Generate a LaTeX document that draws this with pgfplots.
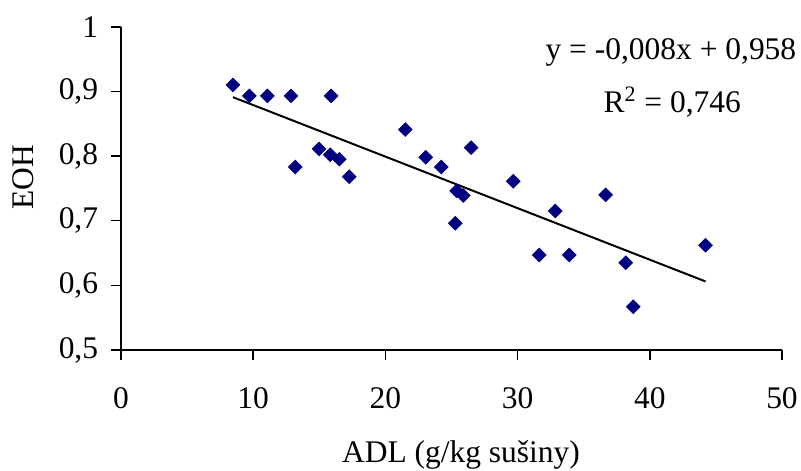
\documentclass[border=0pt]{standalone}
\usepackage{fontspec}
\setmainfont{Liberation Serif}
\usepackage{pgfplots}
\pgfplotsset{compat=1.18}
\definecolor{navy}{RGB}{0,0,128}
\begin{document}
\fontsize{15.8}{19}\selectfont
\begin{tikzpicture}
\useasboundingbox (-60.5bp,-60.5bp) rectangle (340bp,175bp);
\begin{axis}[
  scale only axis,
  width=330.5bp, height=161.65bp,
  at={(0,0)}, anchor=south west,
  xmin=0, xmax=50, ymin=0.5, ymax=1,
  xtick={0,10,20,30,40,50},
  ytick={0.5,0.6,0.7,0.8,0.9,1},
  axis x line*=bottom, axis y line*=left,
  axis line style={black, line width=0.8bp},
  tick style={black, line width=0.8bp},
  tick align=outside,
  major tick length=5bp,
  /pgf/number format/assume math mode=true,
  /pgf/number format/use comma,
  /pgf/number format/fixed,
  /pgf/number format/precision=1,
  ticklabel style={font=\fontsize{15.8}{19}\selectfont},
  xticklabel style={anchor=north, yshift=-8.5bp},
  yticklabel style={anchor=east, xshift=-1bp},
  xlabel={ADL (g/kg sušiny)},
  ylabel={EOH},
  every axis x label/.style={at={(axis description cs:0.5144,-0.3495)}, anchor=base, font=\fontsize{15.8}{19}\selectfont},
  every axis y label/.style={at={(axis description cs:-0.148,0.535)}, anchor=center, rotate=90, font=\fontsize{15.8}{19}\selectfont},
  clip=false,
]
\addplot[only marks, mark=square*, mark size=2.4bp, mark options={rotate=45, fill=navy, draw=navy}] coordinates {
(8.47,0.910) (9.71,0.893) (11.07,0.893) (12.86,0.893) (15.89,0.893)
(13.18,0.783) (14.98,0.811) (15.83,0.802) (16.52,0.795) (17.27,0.768)
(21.51,0.841) (23.05,0.798) (24.23,0.783) (26.48,0.813) (25.39,0.746)
(25.89,0.739) (25.29,0.696) (29.67,0.761) (32.85,0.715) (36.66,0.740)
(31.64,0.647) (33.91,0.647) (38.18,0.635) (38.75,0.567) (44.22,0.662)
};
\addplot[black, line width=1bp] coordinates {(8.47,0.891) (44.22,0.606)};
\node[anchor=base, inner sep=0pt] at (axis cs:41.6,0.950) {y = -0,008x + 0,958};
\node[anchor=base, inner sep=0pt] at (axis cs:41.7,0.868) {R\textsuperscript{2} = 0,746};
\end{axis}
\end{tikzpicture}
\end{document}
